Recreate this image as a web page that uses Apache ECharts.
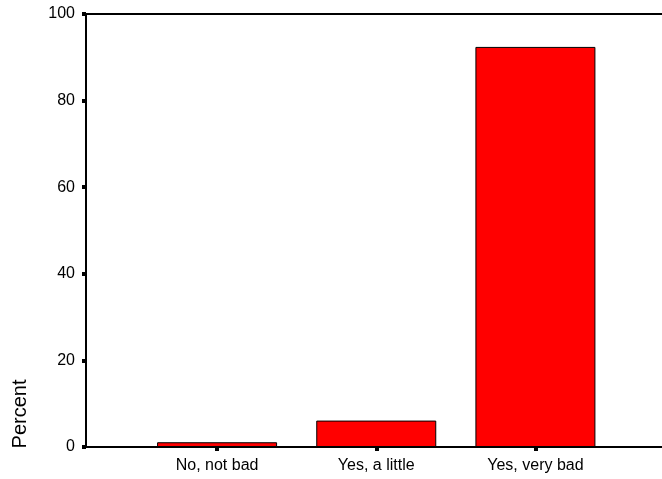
<!DOCTYPE html>
<html>
<head>
<meta charset="utf-8">
<script src="https://cdn.jsdelivr.net/npm/echarts@6/dist/echarts.min.js"></script>
<style>html,body{margin:0;padding:0;background:#fff;}#c{width:662px;height:479px;}</style>
</head>
<body>
<div id="c"></div>
<script>
const categories = ['No, not bad', 'Yes, a little', 'Yes, very bad'];
const percentValues = [1.1, 6.1, 92.4];
const yTicks = [0, 20, 40, 60, 80, 100];
const yAxisTitle = 'Percent';

const FONT = 'Liberation Sans, Arial, sans-serif';
const chart = echarts.init(document.getElementById('c'), null, {renderer: 'canvas'});
const axisLineStyle = {color: '#000', width: 2};
chart.setOption({
  animation: false,
  backgroundColor: '#fff',
  grid: [
    {left: 86, right: 0, top: 14, bottom: 32},
    {left: 137.5, right: 47, top: 14, bottom: 32}
  ],
  xAxis: [
    {gridIndex: 0, type: 'value', min: 0, max: 1, position: 'bottom',
     axisLine: {show: true, lineStyle: axisLineStyle}, axisTick: {show: false},
     axisLabel: {show: false}, splitLine: {show: false}},
    {gridIndex: 0, type: 'value', min: 0, max: 1, position: 'top',
     axisLine: {show: true, lineStyle: axisLineStyle}, axisTick: {show: false},
     axisLabel: {show: false}, splitLine: {show: false}},
    {gridIndex: 1, type: 'category', data: categories, position: 'bottom',
     axisLine: {show: false},
     axisTick: {show: true, alignWithLabel: true, length: 4, lineStyle: {color: '#000', width: 4}},
     axisLabel: {color: '#000', fontFamily: FONT, fontSize: 16, margin: 11},
     splitLine: {show: false}}
  ],
  yAxis: [
    {gridIndex: 0, type: 'value', min: yTicks[0], max: yTicks[yTicks.length - 1],
     interval: yTicks[1] - yTicks[0],
     axisLine: {show: true, lineStyle: axisLineStyle},
     axisTick: {show: true, length: 4, lineStyle: {color: '#000', width: 4}},
     axisLabel: {color: '#000', fontFamily: FONT, fontSize: 16, margin: 11},
     splitLine: {show: false}},
    {gridIndex: 1, type: 'value', min: yTicks[0], max: yTicks[yTicks.length - 1],
     show: false, splitLine: {show: false}}
  ],
  graphic: [{
    type: 'text', x: 20, y: 414, rotation: Math.PI / 2,
    style: {text: yAxisTitle, font: '20px ' + FONT, fill: '#000', align: 'center', verticalAlign: 'middle'}
  }],
  series: [{
    type: 'bar', xAxisIndex: 2, yAxisIndex: 1,
    data: percentValues, barWidth: 120,
    itemStyle: {color: '#FF0000', borderColor: '#000', borderWidth: 1}
  }]
});
</script>
</body>
</html>
